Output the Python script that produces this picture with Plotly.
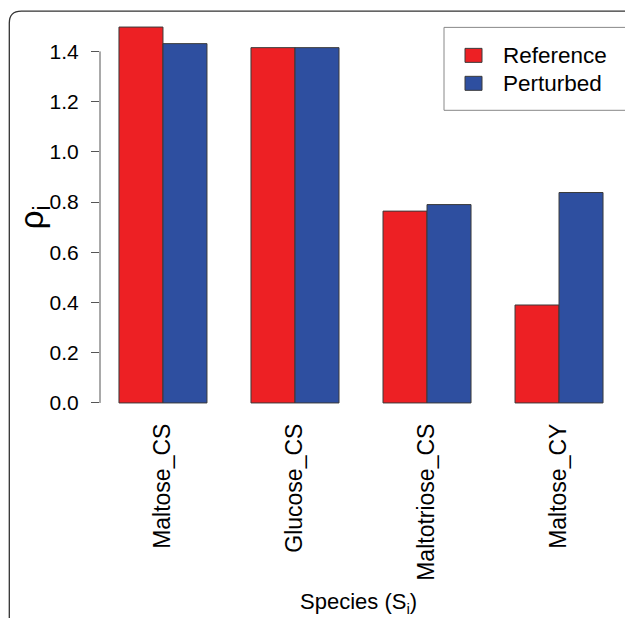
import plotly.graph_objects as go

categories = ["Maltose_CS", "Glucose_CS", "Maltotriose_CS", "Maltose_CY"]
series_names = ["Reference", "Perturbed"]
reference_vals = [1.497, 1.415, 0.764, 0.390]
perturbed_vals = [1.431, 1.415, 0.790, 0.838]
y_ticks = [0.0, 0.2, 0.4, 0.6, 0.8, 1.0, 1.2, 1.4]
y_tick_labels = ["0.0", "0.2", "0.4", "0.6", "0.8", "1.0", "1.2", "1.4"]

RED = "#ED2024"
BLUE = "#2E4FA0"
OUTLINE = "#3a3a3a"
FONT = "Liberation Sans, Arial, Helvetica, sans-serif"

W, H = 625, 618
L, R_, T, B = 100, 3, 11.6, 200
PW, PH = W - L - R_, H - T - B


def px(x):
    return (x - L) / PW


def py(y):
    return (H - B - y) / PH


fig = go.Figure()
for name, vals, col in zip(series_names, [reference_vals, perturbed_vals], [RED, BLUE]):
    fig.add_trace(go.Bar(
        x=categories, y=vals, name=name,
        marker=dict(color=col, line=dict(color=OUTLINE, width=1)),
        showlegend=False,
    ))

shapes = []
# y axis line from 0 to 1.4 only
shapes.append(dict(type="line", xref="paper", yref="y", x0=0, x1=0,
                   y0=y_ticks[0], y1=y_ticks[-1], line=dict(color="#555555", width=1)))
# figure frame with rounded corner
x_left, y_top, rad = 9.3, 10.7, 12
path = (f"M {px(x_left)} {py(H + 5)} L {px(x_left)} {py(y_top + rad)} "
        f"Q {px(x_left)} {py(y_top)} {px(x_left + rad)} {py(y_top)} "
        f"L {px(W + 5)} {py(y_top)}")
shapes.append(dict(type="path", xref="paper", yref="paper", path=path,
                   line=dict(color="#333333", width=1.3)))
# legend box
shapes.append(dict(type="rect", xref="paper", yref="paper",
                   x0=px(444), x1=px(640), y0=py(110), y1=py(27),
                   line=dict(color="#888888", width=1), fillcolor="white"))
annotations = []
sw = [(48, 62), (76, 90)]
for (a, b), col, name in zip(sw, [RED, BLUE], series_names):
    shapes.append(dict(type="rect", xref="paper", yref="paper",
                       x0=px(465), x1=px(482), y0=py(b), y1=py(a),
                       line=dict(color=OUTLINE, width=1), fillcolor=col))
    annotations.append(dict(xref="paper", yref="paper", x=px(501), y=py((a + b) / 2),
                            text=name, showarrow=False, xanchor="left", yanchor="middle",
                            font=dict(size=22.5, color="black", family=FONT)))

annotations.append(dict(xref="paper", yref="paper", x=px(358), y=py(603),
                        text="Species (S<sub>i</sub>)", showarrow=False,
                        xanchor="center", yanchor="middle",
                        font=dict(size=22, color="black", family=FONT)))
annotations.append(dict(xref="paper", yref="paper", x=px(34), y=py(217),
                        text="ρ<sub>i</sub>", showarrow=False, textangle=-90,
                        xanchor="center", yanchor="middle",
                        font=dict(size=33, color="black", family=FONT)))

fig.update_layout(
    width=W, height=H,
    margin=dict(l=L, r=R_, t=T, b=B, pad=0),
    paper_bgcolor="white", plot_bgcolor="white",
    barmode="group", bargap=1/3, bargroupgap=0,
    font=dict(family=FONT, color="black"),
    shapes=shapes, annotations=annotations,
    xaxis=dict(type="category", range=[-0.477, 3.477], showline=False, showgrid=False,
               zeroline=False, ticks="", tickangle=-90, tickfont=dict(size=23, family=FONT),
               ticklabelstandoff=0),
    yaxis=dict(range=[-0.06, 1.557], showline=False, showgrid=False, zeroline=False,
               tickvals=y_ticks, ticktext=y_tick_labels, ticks="outside", ticklen=8,
               tickcolor="#555555", tickwidth=1, tickfont=dict(size=21, family=FONT),
               ticklabelstandoff=8),
)

fig.write_html("out.html", config={"displayModeBar": False},
               post_script="document.body.style.margin='0px';")
